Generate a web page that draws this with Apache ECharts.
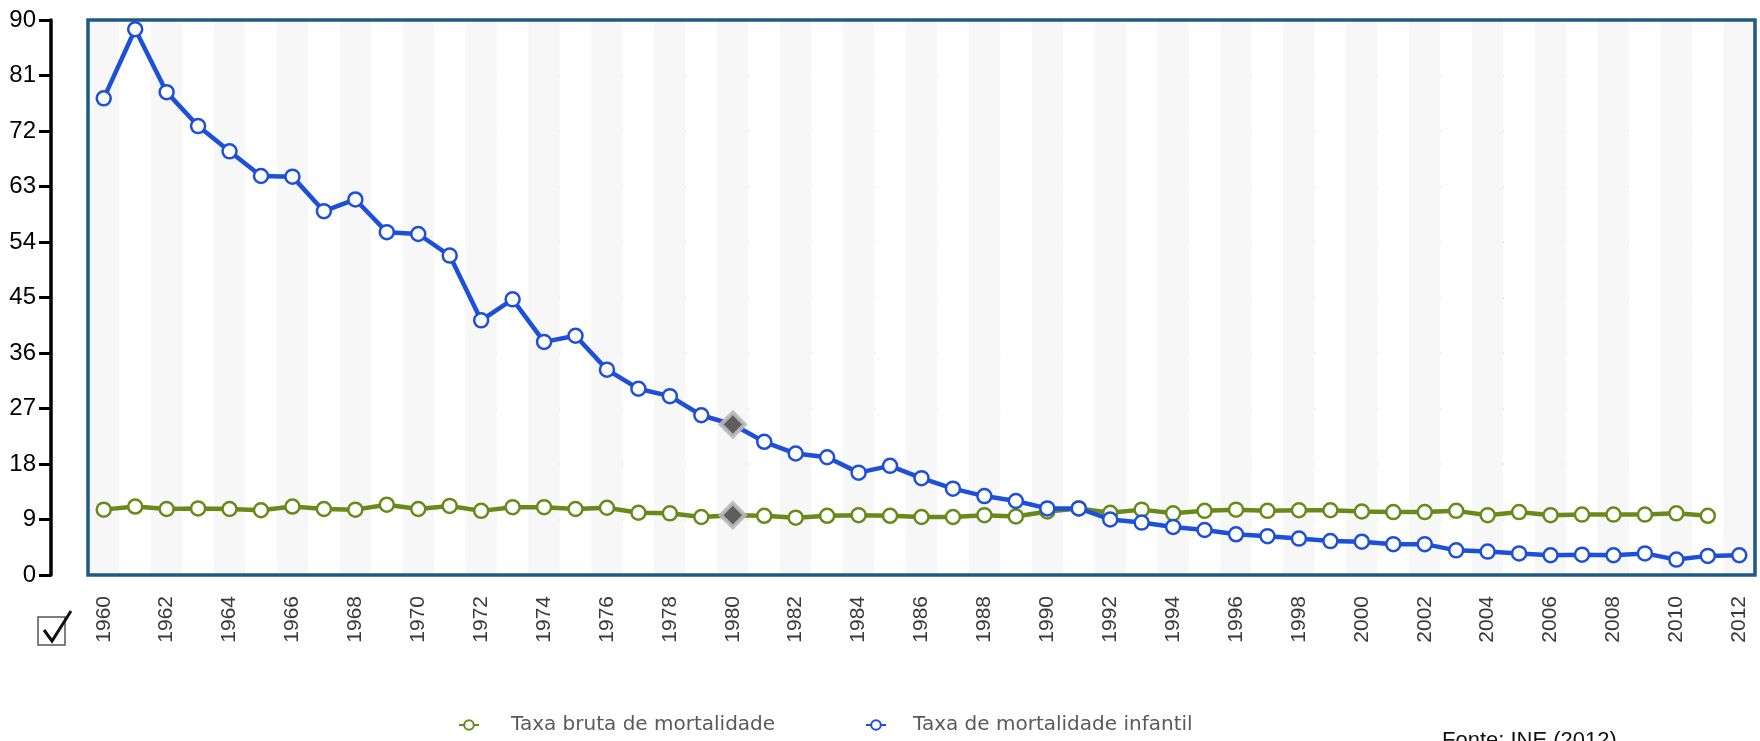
<!DOCTYPE html>
<html>
<head>
<meta charset="utf-8">
<script src="https://cdn.jsdelivr.net/npm/echarts@6/dist/echarts.min.js"></script>
<style>
html, body { margin: 0; padding: 0; background: #fff; }
#main { width: 1760px; height: 741px; }
</style>
</head>
<body>
<div id="main"></div>
<script>
// anos 1960..2012
var anos = ['1960','1961','1962','1963','1964','1965','1966','1967','1968','1969',
            '1970','1971','1972','1973','1974','1975','1976','1977','1978','1979',
            '1980','1981','1982','1983','1984','1985','1986','1987','1988','1989',
            '1990','1991','1992','1993','1994','1995','1996','1997','1998','1999',
            '2000','2001','2002','2003','2004','2005','2006','2007','2008','2009',
            '2010','2011','2012'];

// Taxa bruta de mortalidade (sem valor em 2012)
var taxaBruta = [10.6, 11.1, 10.7, 10.8, 10.7, 10.5, 11.1, 10.7, 10.6, 11.4,
                 10.7, 11.2, 10.4, 11.0, 11.0, 10.7, 10.9, 10.1, 10.0, 9.4,
                 9.7, 9.6, 9.3, 9.6, 9.7, 9.6, 9.4, 9.4, 9.7, 9.5,
                 10.3, 10.8, 10.1, 10.6, 10.0, 10.4, 10.6, 10.4, 10.5, 10.5,
                 10.3, 10.2, 10.2, 10.4, 9.7, 10.2, 9.7, 9.8, 9.8, 9.8,
                 10.0, 9.6, null];

// Taxa de mortalidade infantil
var taxaInfantil = [77.3, 88.5, 78.3, 72.8, 68.7, 64.7, 64.6, 59.0, 60.9, 55.6,
                    55.3, 51.8, 41.3, 44.7, 37.8, 38.8, 33.3, 30.2, 29.0, 25.9,
                    24.4, 21.6, 19.7, 19.1, 16.6, 17.7, 15.7, 14.0, 12.8, 12.0,
                    10.8, 10.8, 9.0, 8.5, 7.8, 7.3, 6.6, 6.3, 5.9, 5.5,
                    5.4, 5.0, 5.0, 4.0, 3.8, 3.5, 3.2, 3.3, 3.2, 3.5,
                    2.5, 3.1, 3.2];

var anoDestaque = '1980'; // ponto selecionado (losango cinzento)

var verde = '#688a1a';
var azul = '#1d4fd9';

function marcar(valores) {
  return valores.map(function (v, i) {
    if (anos[i] !== anoDestaque || v == null) return v;
    return {
      value: v,
      symbol: 'diamond',
      symbolSize: 24,
      itemStyle: { color: '#5e5e5e', borderColor: 'rgba(185,185,185,0.9)', borderWidth: 4 }
    };
  });
}

var myChart = echarts.init(document.getElementById('main'));

var option = {
  animation: false,
  backgroundColor: '#fff',
  grid: {
    left: 88, top: 20, right: 5, bottom: 166,
    show: false
  },
  xAxis: {
    type: 'category',
    data: anos,
    boundaryGap: true,
    axisLine: { show: false },
    axisTick: { show: false },
    axisLabel: {
      interval: 1, rotate: 90, margin: 21,
      color: '#3a3a3a', fontSize: 21, fontFamily: 'Liberation Sans, Arial, sans-serif'
    },
    splitLine: { show: false },
    splitArea: { show: true, interval: 0, areaStyle: { color: ['#f7f7f7', '#ffffff'] } }
  },
  yAxis: {
    type: 'value',
    min: 0, max: 90, interval: 9,
    offset: 37,
    axisLine: { show: true, lineStyle: { color: '#000', width: 3.5 } },
    axisTick: { show: true, inside: false, length: 12, lineStyle: { color: '#000', width: 3 } },
    axisLabel: { margin: 15, color: '#000', fontSize: 24, fontFamily: 'Liberation Sans, Arial, sans-serif' },
    splitLine: { show: true, lineStyle: { color: '#999', width: 1.5, type: [3, 4] } }
  },
  legend: [
    {
      data: ['Taxa bruta de mortalidade'],
      left: 453, top: 710,
      itemWidth: 20, itemHeight: 12,
      textStyle: { color: '#5a5a5a', fontSize: 20, fontFamily: 'DejaVu Sans, Verdana, sans-serif', padding: [0, 0, 0, 27] }
    },
    {
      data: ['Taxa de mortalidade infantil'],
      left: 860, top: 710,
      itemWidth: 20, itemHeight: 12,
      textStyle: { color: '#5a5a5a', fontSize: 20, fontFamily: 'DejaVu Sans, Verdana, sans-serif', padding: [0, 0, 0, 22] }
    }
  ],
  series: [
    {
      name: 'Taxa bruta de mortalidade',
      type: 'line',
      data: marcar(taxaBruta),
      symbol: 'circle', symbolSize: 14,
      lineStyle: { color: verde, width: 4.5 },
      itemStyle: { color: '#fff', borderColor: verde, borderWidth: 2.5 },
      z: 3
    },
    {
      name: 'Taxa de mortalidade infantil',
      type: 'line',
      data: marcar(taxaInfantil),
      symbol: 'circle', symbolSize: 14,
      lineStyle: { color: azul, width: 4.5 },
      itemStyle: { color: '#fff', borderColor: azul, borderWidth: 2.5 },
      z: 4
    }
  ],
  graphic: [
    // moldura da área do gráfico
    { type: 'rect', z: 1, shape: { x: 88, y: 20, width: 1667, height: 555 }, style: { fill: null, stroke: '#1d5a85', lineWidth: 3.5 } },
    // caixa de seleção em baixo à esquerda
    { type: 'rect', shape: { x: 38, y: 617, width: 27, height: 28 }, style: { fill: '#fff', stroke: '#555', lineWidth: 1.5 } },
    { type: 'polyline', shape: { points: [[44, 630], [52, 641], [71, 611]] }, style: { fill: null, stroke: '#111', lineWidth: 3 } },
    { type: 'text', left: 1442, top: 730, style: { text: 'Fonte: INE (2012)', fill: '#111', fontSize: 22, fontFamily: 'Liberation Sans, Arial, sans-serif' } }
  ]
};

myChart.setOption(option);
</script>
</body>
</html>
